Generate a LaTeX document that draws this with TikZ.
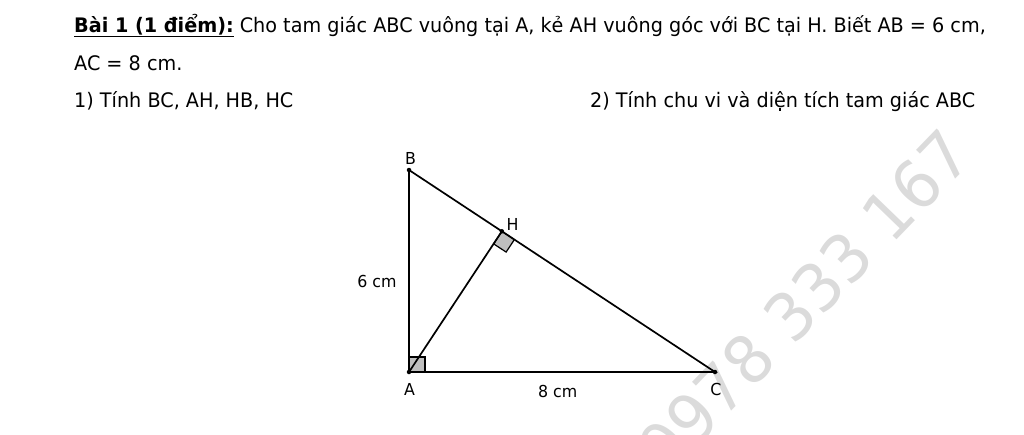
\documentclass[tikz,border=0pt]{standalone}
\usepackage{fontspec}
\setmainfont{DejaVu Sans}[FakeStretch=0.96]
\usetikzlibrary{calc}

\tikzset{
  txt/.style={inner sep=0pt, font=\fontsize{20}{24}\selectfont},
  lbl/.style={inner sep=0pt, font=\fontsize{16.5}{19}\selectfont},
  wmark/.style={inner sep=0pt, text=black!14, font=\fontsize{66}{78}\selectfont},
  side/.style={line width=1.7pt},
  rmark/.style={line width=1.2pt, fill=gray!50},
  pt/.style={fill, circle, inner sep=0pt, minimum size=4.5pt}
}

\begin{document}
\begin{tikzpicture}[x=1pt,y=-1pt]
    \useasboundingbox (0,0) rectangle (1024,434);%

    %% watermark, under everything
    \node[wmark, rotate=46] (wm) at (804,301) {0978 333 167};%

    %% statement
    \node[txt, anchor=base west] (l1) at (74,32) {\underline{\textbf{Bài 1 (1 điểm):}} Cho tam giác ABC vuông tại A, kẻ AH vuông góc với BC tại H. Biết AB = 6 cm,};%
    \node[txt, anchor=base west] (l2) at (74,70) {AC = 8 cm.};%
    \node[txt, anchor=base west] (q1) at (74,107) {1) Tính BC, AH, HB, HC};%
    \node[txt, anchor=base west] (q2) at (590,107) {2) Tính chu vi và diện tích tam giác ABC};%

    %% triangle (not to scale)
    \coordinate (A) at (409,372);%
    \coordinate (B) at (409,170);%
    \coordinate (C) at (715,372);%
    \coordinate (H) at ($(B)!(A)!(C)$);%

    %% right angles
    \draw[rmark] (A) rectangle ++(16,-15);%
    \coordinate (Hc) at ($(H)!15pt!(C)$);%
    \coordinate (Ha) at ($(H)!15pt!(A)$);%
    \draw[rmark] (H) -- (Hc) -- ($(Hc)+(Ha)-(H)$) -- (Ha) -- cycle;%

    \draw[side] (A) -- (B) -- (C) -- cycle;%
    \draw[side] (A) -- (H);%
    \foreach \p in {A, B, C, H} \node[pt] (dot\p) at (\p) {};%

    %% letters and lengths
    \node[lbl, anchor=base] (lB) at (410.5,164) {B};%
    \node[lbl, anchor=base] (lH) at (512.5,230) {H};%
    \node[lbl, anchor=base] (lA) at (409.5,395) {A};%
    \node[lbl, anchor=base] (lC) at (716,395) {C};%
    \node[lbl, anchor=base] (lAB) at (377,287) {6 cm};%
    \node[lbl, anchor=base] (lAC) at (557.7,397) {8 cm};%
  \end{tikzpicture}
\end{document}
